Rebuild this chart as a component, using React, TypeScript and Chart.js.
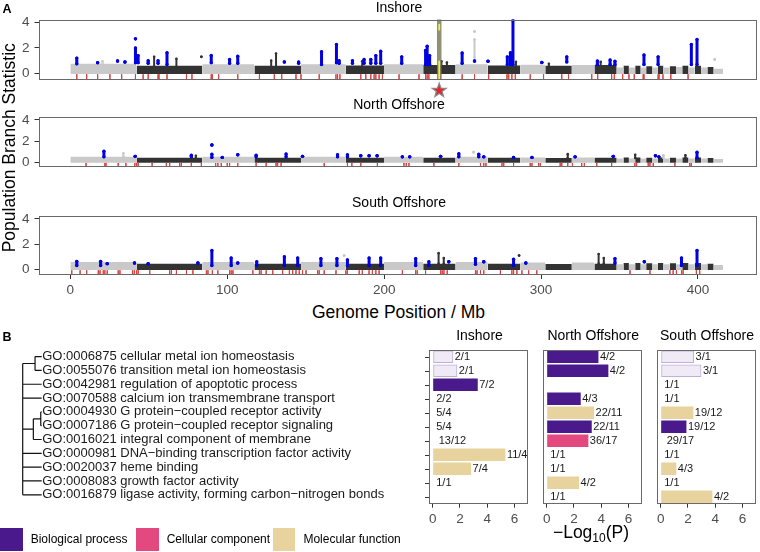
import React, { useEffect, useRef } from "react";
import { Chart, registerables } from "chart.js";

Chart.register(...registerables);

const FONT = "'Liberation Sans', Arial, Helvetica, sans-serif";
Chart.defaults.font.family = FONT;

// ================= Panel A : genome scan (positions in Mb) =================
const genomeTicks = [0, 100, 200, 300, 400];
const pbsTicks = [0, 2, 4];
const scanTitles = ["Inshore", "North Offshore", "South Offshore"];

// chromosome / scaffold boundaries (Mb)
const chromBounds = [0, 42.2, 84.1, 117.3, 147, 175.6, 199.9, 224.9, 245.5, 266, 286.8, 302.7, 319.6, 334, 348.2,
  352.5, 356, 360, 363.5, 367, 371, 374.5, 378, 382, 386, 390, 394, 398, 402, 406, 410, 416];

// typical top of the dense point band for each chromosome
const bandInshore = [0.75, 0.6, 0.72, 0.6, 0.72, 0.62, 0.72, 0.65, 0.72, 0.62, 0.68, 0.6, 0.65, 0.65,
  0.45, 0.6, 0.45, 0.6, 0.45, 0.55, 0.45, 0.6, 0.45, 0.55, 0.5, 0.6, 0.45, 0.6, 0.45, 0.5, 0.35];
const bandNorth = [0.5, 0.42, 0.5, 0.42, 0.5, 0.42, 0.5, 0.42, 0.5, 0.42, 0.45, 0.4, 0.45, 0.42,
  0.35, 0.45, 0.35, 0.45, 0.35, 0.42, 0.35, 0.45, 0.35, 0.42, 0.35, 0.45, 0.35, 0.45, 0.35, 0.4, 0.3];
const bandSouth = [0.58, 0.45, 0.58, 0.45, 0.58, 0.45, 0.58, 0.45, 0.58, 0.45, 0.55, 0.42, 0.55, 0.45,
  0.4, 0.5, 0.4, 0.5, 0.4, 0.48, 0.4, 0.5, 0.4, 0.48, 0.4, 0.5, 0.4, 0.5, 0.4, 0.45, 0.35];

// outlier windows (blue): [position, low PBS, high PBS]
const blueInshore = [[4.1, 0.75, 1.2], [17.4, 0.84, 0.84], [30.1, 0.97, 0.97], [34.8, 0.89, 0.89], [41.5, 0.84, 2.0],
  [41.5, 2.72, 2.72], [43.2, 0.84, 1.4], [49.6, 0.8, 1.0], [55.9, 0.8, 1.0], [61.6, 0.7, 1.62], [89.8, 0.84, 1.41],
  [101.5, 0.8, 1.1], [106.7, 0.8, 1.35], [136.4, 0.9, 0.9], [145.5, 0.8, 0.9], [160.1, 0.7, 1.7], [169.6, 0.84, 2.27],
  [171.3, 0.8, 1.0], [179.8, 0.8, 1.0], [187.2, 0.8, 1.1], [191.5, 0.8, 1.1], [194.7, 0.8, 1.4], [197.8, 0.8, 1.75],
  [211.2, 0.8, 1.3], [226.4, 0.7, 1.8], [227.4, 0.7, 2.14], [229, 0.7, 1.4], [249.7, 0.8, 1.6], [257.6, 0.97, 0.97],
  [266.2, 0.95, 0.95], [278.5, 0.7, 1.3], [280.5, 0.7, 1.62], [282.1, 0.7, 4.18], [300.5, 0.85, 0.85], [316.4, 0.9, 1.3],
  [335.9, 0.7, 0.97], [344, 0.7, 1.05], [347.1, 0.7, 0.95], [365.6, 0.7, 1.44], [374.6, 0.7, 1.3], [395.8, 0.7, 2.27],
  [399.4, 0.7, 2.67]];
const blueNorth = [[21.4, 0.5, 1.03], [41.3, 0.55, 0.55], [77.1, 0.5, 0.65], [90.2, 0.45, 0.75], [90.2, 1.63, 1.63],
  [96.8, 0.45, 0.45], [106.7, 0.7, 0.7], [118.4, 0.5, 0.65], [137.5, 0.5, 0.77], [148, 0.55, 0.55], [170.3, 0.5, 0.7],
  [176.6, 0.5, 0.7], [185.1, 0.6, 0.6], [190.4, 0.6, 0.6], [195.5, 0.6, 0.6], [211.6, 0.5, 0.5], [216.3, 0.5, 0.5],
  [236, 0.55, 0.55], [247.6, 0.5, 0.8], [260.3, 0.5, 0.75], [263.5, 0.5, 0.5], [282.5, 0.45, 0.45], [294.2, 0.45, 0.45],
  [321.7, 0.5, 0.5], [346, 0.55, 0.55], [372.9, 0.6, 0.6], [375.1, 0.5, 0.5], [399.4, 0.42, 0.95]];
const blueSouth = [[4.1, 0.3, 0.63], [19.3, 0.3, 0.63], [23.5, 0.45, 0.45], [40.9, 0.5, 0.5], [49.6, 0.45, 0.45],
  [81.3, 0.5, 0.5], [90.2, 0.3, 1.5], [102.5, 0.3, 0.9], [106.7, 0.5, 0.5], [118.8, 0.3, 0.6], [136.4, 0.3, 1.0],
  [144.9, 0.3, 0.9], [159.7, 0.3, 0.85], [169.9, 0.3, 0.85], [176.6, 0.3, 0.75], [190.4, 0.3, 0.9], [197.8, 0.3, 0.9],
  [220.1, 0.3, 0.85], [228.5, 0.3, 0.6], [241.2, 0.6, 0.6], [258.2, 0.4, 0.85], [263.5, 0.6, 0.6], [282.5, 0.3, 0.8],
  [290.3, 0.5, 0.5], [347.1, 0.5, 0.85], [365.8, 0.6, 0.6], [389.5, 0.3, 0.9], [399.4, 0.3, 1.5]];

// non-outlier peaks above the band (coloured by chromosome)
const spikesInshore = [[20.5, 0.7, 0.95], [53.4, 0.5, 1.3], [67.6, 0.5, 1.15], [83.5, 1.3, 1.3], [128, 0.5, 1.0],
  [131.1, 0.5, 1.57], [186, 0.5, 0.95], [236.5, 0.5, 0.95], [240, 0.5, 0.85], [257.6, 1.25, 2.67], [257.6, 3.3, 3.3],
  [284, 0.5, 0.9], [305, 0.5, 0.75], [338, 0.5, 0.9], [410.7, 1.1, 1.1]];
const spikesNorth = [[33.8, 0.5, 0.84], [80, 0.4, 0.6], [257, 0.95, 0.95], [317, 0.4, 0.76], [360, 0.4, 0.7],
  [378, 0.4, 0.65], [392, 0.4, 0.65]];
const spikesSouth = [[174.5, 1.1, 1.1], [234.7, 0.45, 1.28], [238, 0.45, 0.9], [286, 1.1, 1.1], [336.7, 0.45, 1.22],
  [340, 0.45, 0.9]];

// gene positions (red rug)
const redInshore = [4.1, 10.4, 17.4, 25.2, 32.7, 41.5, 46.4, 49.6, 55.9, 56.5, 61.6, 74, 77.5, 89.8, 90.5, 94.5, 106.7,
  120.5, 130, 134.7, 143.8, 147, 158.6, 169.3, 170.3, 171.8, 185.1, 188.3, 191.5, 193.6, 194.7, 196.8, 198.9, 209.5,
  222.2, 226.4, 227.4, 228.5, 236, 249.7, 257.6, 266.6, 278.3, 279.4, 281.4, 283.6, 293.1, 301.6, 313.2, 317.5, 332.3,
  336.1, 345, 346.7, 352, 356, 359.4, 365.1, 365.6, 374.6, 375.2, 377.7, 382.7, 393.7];
const redNorth = [10, 22, 22.7, 30.5, 35.4, 41.1, 42.2, 43.2, 52.1, 61.2, 63.3, 69.7, 70.8, 77.1, 83.5, 92.6, 94, 96.2,
  100, 101.5, 106.7, 118.4, 124.8, 131.1, 132.1, 134.3, 161.8, 176.6, 179.4, 185.1, 195.7, 212.6, 214.1, 215.8, 231.7,
  247.6, 261.4, 263.5, 264.9, 275.1, 276.2, 282.5, 293.1, 294.2, 298.4, 299.5, 312.2, 313.2, 317, 320, 325.9, 327.6,
  335.5, 345, 359.8, 360.9, 368.3, 369.4, 371.5, 385.3, 394.8, 395.8];
const redSouth = [0.9, 6.2, 10.4, 17.8, 18.9, 21, 22, 23.5, 30.5, 31.6, 39.6, 40.7, 42.2, 43.2, 50.6, 63.3, 64.4, 67.6,
  74, 78.1, 86.7, 87.7, 90.5, 94, 101.5, 102.5, 103.6, 116.3, 120.5, 121.6, 124.8, 129, 135.3, 139.6, 141.7, 143.8,
  145.9, 148, 150.2, 157.6, 158.6, 161.8, 169.3, 175.6, 176.6, 184.1, 186.1, 190.4, 192.5, 194.7, 196.8, 211.6, 220.1,
  221.1, 226.4, 236, 237, 238.1, 240.2, 258.2, 259.2, 261.4, 263.5, 274.1, 281.4, 282.5, 284.6, 287.8, 292.1, 297.3,
  356.7, 369.4, 382.1, 384.2, 386.3, 389.5, 390.5, 399, 401.1];

const starPosition = 235.1;

// ================= Panel B : GO enrichment =================
const goTerms = [
  "GO:0006875 cellular metal ion homeostasis",
  "GO:0055076 transition metal ion homeostasis",
  "GO:0042981 regulation of apoptotic process",
  "GO:0070588 calcium ion transmembrane transport",
  "GO:0004930 G protein\u2212coupled receptor activity",
  "GO:0007186 G protein\u2212coupled receptor signaling",
  "GO:0016021 integral component of membrane",
  "GO:0000981 DNA\u2212binding transcription factor activity",
  "GO:0020037 heme binding",
  "GO:0008083 growth factor activity",
  "GO:0016879 ligase activity, forming carbon\u2212nitrogen bonds",
];
const termType = ["BP", "BP", "BP", "BP", "MF", "BP", "CC", "MF", "MF", "MF", "MF"];
const typeNames = ["Biological process", "Cellular component", "Molecular function"];
const typeKeys = ["BP", "CC", "MF"];
const typeColors: Record<string, string> = { BP: "#4a1a8c", CC: "#e3497f", MF: "#e8d39f" };

// dendrogram links [x1, row1, x2, row2]  (x: 0 = root, 1 = leaf)
const dendroLinks = [[0, 0.5, 0, 10], [0, 0.5, 0.65, 0.5], [0.65, 0, 0.65, 1], [0.65, 0, 1, 0], [0.65, 1, 1, 1],
  [0, 2, 1, 2], [0, 3, 1, 3], [0, 5.25, 0.56, 5.25], [0.56, 4.5, 0.56, 6], [0.56, 4.5, 0.95, 4.5], [0.95, 4, 0.95, 5],
  [0.95, 4, 1, 4], [0.95, 5, 1, 5], [0.56, 6, 1, 6], [0, 7, 1, 7], [0, 8, 1, 8], [0, 9, 1, 9], [0, 10, 1, 10]];

const logPTicks = [0, 2, 4, 6];
const inshoreLogP = [1.51, 1.81, 3.31, 0, 0, 0, 0, 5.34, 2.82, 0, null];
const inshoreCounts = ["2/1", "2/1", "7/2", "2/2", "5/4", "5/4", "13/12", "11/4", "7/4", "1/1", ""];
const inshoreFaded = [true, true, false, false, false, false, false, false, false, false, false];
const northLogP = [3.8, 4.53, null, 2.5, 3.48, 3.31, 3.06, 0, 0, 2.38, 0];
const northCounts = ["4/2", "4/2", "", "4/3", "22/11", "22/11", "36/17", "1/1", "1/1", "4/2", "1/1"];
const northFaded = [false, false, false, false, false, false, false, false, false, false, false];
const southLogP = [2.45, 2.99, 0, 0, 2.4, 1.89, 0, 0, 1.15, 0, 3.8];
const southCounts = ["3/1", "3/1", "1/1", "1/1", "19/12", "19/12", "29/17", "1/1", "4/3", "1/1", "4/2"];
const southFaded = [true, true, false, false, false, false, false, false, false, false, false];

// ================= helpers =================
const GRAY = "#c9c9c9";
const DARK = "#333333";
const BLUE = "#0000e0";
const RED = "rgba(222,60,60,0.8)";
const FRAME = "#6a6a6a";
const TICKC = "#4d4d4d";

function segs(list: number[][]) {
  const out: any[] = [];
  for (const [x, lo, hi] of list) out.push({ x, y: lo }, { x, y: hi }, { x, y: null });
  return out;
}
function chromIndex(x: number) {
  for (let i = 0; i < chromBounds.length - 1; i++) if (x >= chromBounds[i] && x < chromBounds[i + 1]) return i;
  return chromBounds.length - 2;
}
function lineSet(list: number[][], color: string, width: number, radius: number, order: number) {
  return {
    type: "line", data: segs(list), borderColor: color, backgroundColor: color, pointBackgroundColor: color,
    pointBorderWidth: 0, borderWidth: width, pointRadius: radius, borderCapStyle: "round", fill: false, order,
    spanGaps: false,
  };
}

const framePlugin = {
  id: "frame",
  afterDraw(chart: any) {
    const { ctx, chartArea: a } = chart;
    ctx.save();
    ctx.strokeStyle = FRAME;
    ctx.lineWidth = 1;
    ctx.strokeRect(Math.round(a.left) + 0.5, Math.round(a.top) + 0.5, Math.round(a.right - a.left) - 1, Math.round(a.bottom - a.top) - 1);
    ctx.restore();
  },
};

const starPlugin = {
  id: "star",
  afterDraw(chart: any) {
    const { ctx, chartArea: a } = chart;
    const cx = chart.scales.x.getPixelForValue(starPosition);
    const cy = a.bottom + 11.5;
    const R = 7.4, r = 3.0;
    ctx.save();
    ctx.beginPath();
    for (let k = 0; k < 10; k++) {
      const ang = -Math.PI / 2 + (k * Math.PI) / 5;
      const rad = k % 2 === 0 ? R : r;
      const px = cx + rad * Math.cos(ang), py = cy + rad * Math.sin(ang);
      if (k === 0) ctx.moveTo(px, py); else ctx.lineTo(px, py);
    }
    ctx.closePath();
    ctx.fillStyle = "#e3262b";
    ctx.fill();
    ctx.strokeStyle = "#8a8a8a";
    ctx.lineWidth = 1.2;
    ctx.stroke();
    ctx.restore();
  },
};

function manhattanConfig(tops: number[], blue: number[][], spikes: number[][], reds: number[], o: any) {
  const datasets: any[] = [];
  for (let i = 0; i < chromBounds.length - 1; i++) {
    const col = i % 2 === 0 ? GRAY : DARK;
    datasets.push({
      type: "line", data: [{ x: chromBounds[i], y: tops[i] }, { x: chromBounds[i + 1], y: tops[i] }],
      borderWidth: 0, pointRadius: 0, backgroundColor: col, borderColor: col, fill: { value: -0.06 }, order: 6,
    });
  }
  datasets.push(lineSet(reds.map((x) => [x, -0.08, -0.45]), RED, 1, 0, 7));
  const g = spikes.filter((s) => chromIndex(s[0]) % 2 === 0);
  const d = spikes.filter((s) => chromIndex(s[0]) % 2 === 1);
  datasets.push(lineSet(g, GRAY, 2, 1.3, 3));
  datasets.push(lineSet(d, DARK, 2, 1.3, 3));
  if (o.highlight) {
    datasets.push(lineSet([[starPosition, -0.45, 4.25]], "rgba(125,125,92,0.85)", 4.5, 0, 2));
    datasets.push(lineSet([[starPosition, 3.45, 3.85], [starPosition, -0.4, 0.95]], "#efef48", 1.8, 0, 1));
  }
  datasets.push(lineSet(blue, BLUE, 3, 1.7, 0));

  return {
    type: "line",
    data: { datasets },
    options: {
      animation: false, responsive: false, devicePixelRatio: 1,
      layout: { padding: { left: 0, right: 0.5, top: o.padTop, bottom: o.padBottom } },
      plugins: { legend: { display: false }, tooltip: { enabled: false }, title: { display: false } },
      scales: {
        x: {
          type: "linear", min: -20.3, max: 437, display: o.showX,
          afterBuildTicks: (s: any) => { s.ticks = genomeTicks.map((v) => ({ value: v })); },
          afterFit: (s: any) => { s.height = o.showX ? 25 : 0; },
          grid: { drawOnChartArea: false, drawTicks: true, tickLength: 4, tickColor: "#333", color: "#333" },
          border: { display: false },
          ticks: { font: { size: 13.5, family: FONT }, color: TICKC, padding: 3, maxRotation: 0, autoSkip: false },
        },
        y: {
          type: "linear", min: -0.45, max: 4.25,
          afterBuildTicks: (s: any) => { s.ticks = pbsTicks.map((v) => ({ value: v })); },
          afterFit: (s: any) => { s.width = 38.5; },
          grid: { drawOnChartArea: false, drawTicks: true, tickLength: 4, tickColor: "#333", color: "#333" },
          border: { display: false },
          ticks: { font: { size: 13.5, family: FONT }, color: TICKC, padding: 5, callback: (v: any) => String(v) },
        },
      },
    },
    plugins: o.star ? [framePlugin, starPlugin] : [framePlugin],
  };
}

function dendroConfig() {
  const data: any[] = [];
  for (const [x1, y1, x2, y2] of dendroLinks) data.push({ x: x1, y: y1 }, { x: x2, y: y2 }, { x: x1, y: null });
  return {
    type: "line",
    data: { datasets: [{ data, borderColor: "#111", borderWidth: 1.2, pointRadius: 0, fill: false, spanGaps: false, clip: false }] },
    options: {
      animation: false, responsive: false, devicePixelRatio: 1,
      layout: { padding: { left: 22.7, right: 0, top: 9.7, bottom: 6.3 } },
      plugins: { legend: { display: false }, tooltip: { enabled: false } },
      scales: {
        x: { type: "linear", min: 0, max: 1, display: false, afterFit: (s: any) => { s.height = 0; } },
        y: {
          type: "linear", position: "right", reverse: true, min: -0.5, max: 10.5,
          afterBuildTicks: (s: any) => { s.ticks = goTerms.map((_, i) => ({ value: i })); },
          afterFit: (s: any) => { s.width = 422 - 41.7; },
          grid: { display: false, drawTicks: false },
          border: { display: false },
          ticks: { font: { size: 13, family: FONT }, color: "#1a1a1a", padding: 0.5, autoSkip: false, callback: (v: any) => goTerms[v] },
        },
      },
    },
  };
}

function barConfig(vals: (number | null)[], counts: string[], faded: boolean[], showRowTicks: boolean) {
  const rows = goTerms.map((_, i) => String(i));
  const bg = vals.map((_, i) => (faded[i] ? "rgba(74,26,140,0.09)" : typeColors[termType[i]]));
  const bc = faded.map((f) => (f ? "rgba(74,26,140,0.35)" : "rgba(0,0,0,0)"));
  const bw = faded.map((f) => (f ? 1 : 0));
  const labelPlugin = {
    id: "counts",
    afterDatasetsDraw(chart: any) {
      const { ctx } = chart;
      const xs = chart.scales.x, ys = chart.scales.y;
      ctx.save();
      ctx.font = `11px ${FONT}`;
      ctx.fillStyle = "#1a1a1a";
      ctx.textBaseline = "middle";
      ctx.textAlign = "left";
      counts.forEach((t, i) => {
        if (!t) return;
        const v = vals[i] || 0;
        const w = ctx.measureText(t).width;
        const px = xs.getPixelForValue(v) + (v > 0 ? 1.5 : 0.2 * w + 0.5);
        ctx.fillText(t, px, ys.getPixelForValue(i) + 0.5);
      });
      if (showRowTicks) {
        ctx.strokeStyle = "#333";
        ctx.lineWidth = 1;
        const a = chart.chartArea;
        rows.forEach((_, i) => {
          const y = Math.round(ys.getPixelForValue(i)) + 0.5;
          ctx.beginPath(); ctx.moveTo(a.left - 4, y); ctx.lineTo(a.left, y); ctx.stroke();
        });
      }
      ctx.restore();
    },
  };
  return {
    type: "bar",
    data: {
      labels: rows,
      datasets: [{
        data: vals.map((v) => (v && v > 0 ? v : null)), backgroundColor: bg, borderColor: bc, borderWidth: bw,
        borderSkipped: false, barPercentage: 0.9, categoryPercentage: 1,
      }],
    },
    options: {
      indexAxis: "y", animation: false, responsive: false, devicePixelRatio: 1,
      layout: { padding: { left: 6, right: 6, top: 9.7, bottom: 0 } },
      plugins: { legend: { display: false }, tooltip: { enabled: false } },
      scales: {
        y: { type: "category", display: false, afterFit: (s: any) => { s.width = 0; } },
        x: {
          type: "linear", min: -0.27, max: 7.0,
          afterBuildTicks: (s: any) => { s.ticks = logPTicks.map((v) => ({ value: v })); },
          afterFit: (s: any) => { s.height = 26.3; },
          grid: { drawOnChartArea: false, drawTicks: true, tickLength: 4, tickColor: "#333", color: "#333" },
          border: { display: false },
          ticks: { font: { size: 13.5, family: FONT }, color: TICKC, padding: 3, maxRotation: 0, autoSkip: false },
        },
      },
    },
    plugins: [framePlugin, labelPlugin],
  };
}

function ChartBox({ left, top, width, height, make }: any) {
  const ref = useRef<HTMLCanvasElement | null>(null);
  useEffect(() => {
    const c = new Chart(ref.current as HTMLCanvasElement, make());
    return () => c.destroy();
  }, []);
  return (
    <canvas ref={ref} width={width} height={height}
      style={{ position: "absolute", left, top, width, height, display: "block" }} />
  );
}

function Label({ x, top, size, children, align = "left", bold = false }: any) {
  const w = 400;
  return (
    <div style={{
      position: "absolute", left: align === "center" ? x - w / 2 : x, top, width: align === "center" ? w : undefined,
      textAlign: align, fontSize: size, lineHeight: `${size}px`, fontWeight: bold ? 700 : 400, whiteSpace: "nowrap",
      color: "#000",
    }}>{children}</div>
  );
}

export default function App() {
  const barBoxes = [429.3, 542.7, 656.5];
  const barCenters = [479.5, 593.2, 707];
  const legendX = [0, 136, 272.7];
  return (
    <div style={{ position: "fixed", left: 0, top: 0, width: 760, height: 552, background: "#fff", overflow: "hidden", fontFamily: FONT }}>
      <ChartBox left={0} top={0} width={760} height={100}
        make={() => manhattanConfig(bandInshore, blueInshore, spikesInshore, redInshore, { padTop: 19.5, padBottom: 21, showX: false, highlight: true, star: true })} />
      <ChartBox left={0} top={100} width={760} height={80}
        make={() => manhattanConfig(bandNorth, blueNorth, spikesNorth, redNorth, { padTop: 17.3, padBottom: 2.7, showX: false })} />
      <ChartBox left={0} top={200} width={760} height={100}
        make={() => manhattanConfig(bandSouth, blueSouth, spikesSouth, redSouth, { padTop: 15.7, padBottom: 0, showX: true })} />

      <ChartBox left={0} top={340} width={422} height={170} make={() => dendroConfig()} />
      <ChartBox left={barBoxes[0] - 6} top={340} width={111} height={190} make={() => barConfig(inshoreLogP, inshoreCounts, inshoreFaded, true)} />
      <ChartBox left={barBoxes[1] - 6} top={340} width={111} height={190} make={() => barConfig(northLogP, northCounts, northFaded, false)} />
      <ChartBox left={barBoxes[2] - 6} top={340} width={111} height={190} make={() => barConfig(southLogP, southCounts, southFaded, false)} />

      <Label x={2.5} top={3.4} size={12.5} bold>A</Label>
      <Label x={2.5} top={331.4} size={12.5} bold>B</Label>
      <Label x={399} top={0} size={14} align="center">{scanTitles[0]}</Label>
      <Label x={399} top={96.5} size={14} align="center">{scanTitles[1]}</Label>
      <Label x={399} top={194.9} size={14} align="center">{scanTitles[2]}</Label>
      <Label x={398.5} top={304.4} size={17.5} align="center">Genome Position / Mb</Label>
      <div style={{
        position: "absolute", left: 9.5 - 130, top: 148 - 8.75, width: 260, height: 17.5, lineHeight: "17.5px",
        fontSize: 17.5, textAlign: "center", transform: "rotate(-90deg)", whiteSpace: "nowrap",
      }}>Population Branch Statistic</div>

      {scanTitles.map((t, i) => (
        <Label key={t} x={barCenters[i]} top={327.5} size={14} align="center">{t}</Label>
      ))}
      <Label x={591} top={523.7} size={17.5} align="center">
        <span>{"\u2212Log"}<sub style={{ fontSize: 12, verticalAlign: "-4px", lineHeight: 0 }}>10</sub>(P)</span>
      </Label>

      {typeKeys.map((k, i) => (
        <React.Fragment key={k}>
          <div style={{ position: "absolute", left: legendX[i], top: 528, width: 22.7, height: 22.7, background: typeColors[k] }} />
          <Label x={legendX[i] + 30.7} top={533.4} size={12}>{typeNames[i]}</Label>
        </React.Fragment>
      ))}
    </div>
  );
}
